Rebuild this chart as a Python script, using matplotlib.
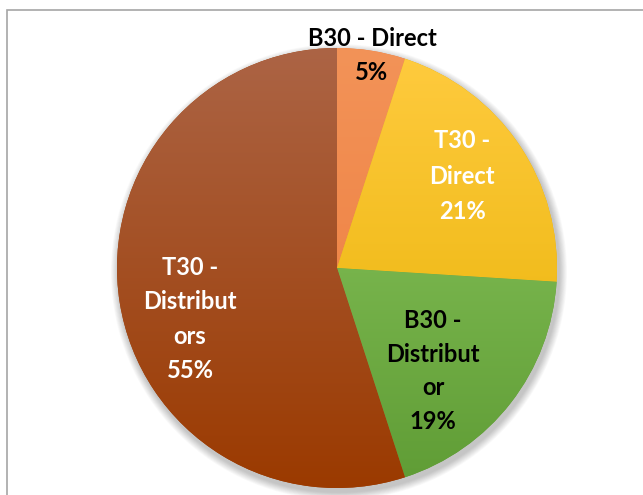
import matplotlib.pyplot as plt
import numpy as np
from matplotlib.colors import LinearSegmentedColormap
from matplotlib.patches import Circle, Rectangle

# data
etiquetas = ["B30 - Direct", "T30 - Direct", "B30 - Distributor", "T30 - Distributors"]
valores = [5, 21, 19, 55]
textos = ["5%", "T30 -\nDirect\n21%", "B30 -\nDistribut\nor\n19%", "T30 -\nDistribut\nors\n55%"]
cores_texto = ["black", "white", "black", "white"]
# gradient colours (top, bottom)
gradientes = [("#F39358", "#EC7A3A"), ("#FFCB3F", "#E6B000"),
              ("#8FCB62", "#5F9C35"), ("#AC6445", "#9B3A00")]

W, H = 643, 495
fig = plt.figure(figsize=(W / 100, H / 100), dpi=100)
ax = fig.add_axes([0, 0, 1, 1])

cx, cy, r = 337, 495 - 268, 220

# soft shadow
for k in range(10, 0, -1):
    ax.add_patch(Circle((cx + 2, cy - 4), r + k * 0.8, color="black", alpha=0.025, lw=0, zorder=0))

wedges, _ = ax.pie(valores, startangle=90, counterclock=False, center=(cx, cy),
                   radius=r, frame=True, colors=[g[1] for g in gradientes],
                   wedgeprops=dict(linewidth=0))

grad = np.linspace(0, 1, 256).reshape(-1, 1)
for w, (c1, c2) in zip(wedges, gradientes):
    cmap = LinearSegmentedColormap.from_list("g", [c2, c1])
    im = ax.imshow(grad, cmap=cmap, extent=(cx - r, cx + r, cy - r, cy + r),
                   origin="lower", aspect="auto", zorder=2, interpolation="bilinear")
    im.set_clip_path(w)

# labels
fonte = dict(fontsize=17, fontweight="bold", family=["Lato", "DejaVu Sans"], ha="center", va="center", zorder=5)
ax.text(372, 495 - 39, etiquetas[0], color="black", **fonte)
pos = [(372, 495 - 73), (462, 495 - 176), (433, 495 - 371), (190, 495 - 319)]
espacos = [1.0, 1.65, 1.55, 1.6]
for t, (x, y), c, ls in zip(textos, pos, cores_texto, espacos):
    ax.text(x, y, t, color=c, linespacing=ls, **fonte)

ax.set_xlim(0, W)
ax.set_ylim(0, H)
ax.set_aspect("equal")
ax.axis("off")

# chart border
fig.add_artist(Rectangle((7 / W, -0.1), 1.2, 1.1 - 10 / H, transform=fig.transFigure,
                         fill=False, edgecolor="#A6A6A6", linewidth=1.2))

plt.savefig("out.png", dpi=100)
